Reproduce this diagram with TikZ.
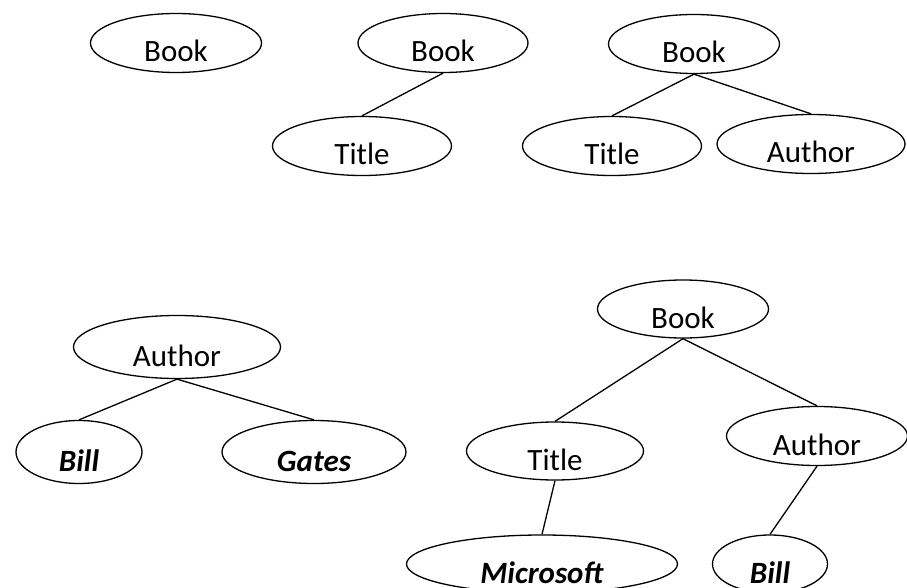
\documentclass[tikz,border=0pt]{standalone}
\usepackage{fontspec}
\setmainfont{Carlito}
\usetikzlibrary{shapes,positioning}
\newcommand{\bi}[1]{\textbf{\textit{#1}}}

\begin{document}
\begin{tikzpicture}[x = 1pt, y = -1pt,
  el/.style = {draw, ellipse, line width = 1.3pt, inner sep = 0pt, minimum height = 59pt,
    font = \fontsize{31}{36}\selectfont, text height = 38pt, text depth = 0pt}]
\useasboundingbox (0,0) rectangle (907,588);
% top row
\node[el, minimum width = 171pt] (b1) at (176,43) {Book};
\node[el, minimum width = 170pt] (b2) at (443,43) {Book};
\node[el, minimum width = 179pt] (t2) at (362,146) {Title};
\node[el, minimum width = 171pt] (b3) at (694,44) {Book};
\node[el, minimum width = 179pt] (t3) at (612,146) {Title};
\node[el, minimum width = 188pt] (a3) at (811,144) {Author};
\draw[line width = 1.3pt] (b2.south) -- (t2.north);
\draw[line width = 1.3pt] (b3.south) -- (t3.north);
\draw[line width = 1.3pt] (b3.south) -- (a3.north);
% bottom left
\node[el, minimum width = 207pt, minimum height = 63pt] (a4) at (177,347) {Author};
\node[el, minimum width = 126pt, minimum height = 63pt] (bl4) at (79,452) {\bi{Bill}};
\node[el, minimum width = 184pt, minimum height = 63pt] (g4) at (314,452) {\bi{Gates}};
\draw[line width = 1.3pt] (a4.south) -- (bl4.north);
\draw[line width = 1.3pt] (a4.south) -- (g4.north);
% bottom right
\node[el, minimum width = 171pt, minimum height = 58pt] (b5) at (683,309) {Book};
\node[el, minimum width = 177pt, minimum height = 58pt] (t5) at (555,451) {Title};
\node[el, minimum width = 181pt] (a5) at (817,436) {Author};
\node[el, minimum width = 271pt, minimum height = 58pt] (m5) at (542,564) {\bi{Microsoft}};
\node[el, minimum width = 115pt, minimum height = 58pt] (bl5) at (770,564) {\bi{Bill}};
\draw[line width = 1.3pt] (b5.south) -- (t5.north);
\draw[line width = 1.3pt] (b5.south) -- (a5.north);
\draw[line width = 1.3pt] (t5.south) -- (m5.north);
\draw[line width = 1.3pt] (a5.south) -- (bl5.north);
\end{tikzpicture}
\end{document}
